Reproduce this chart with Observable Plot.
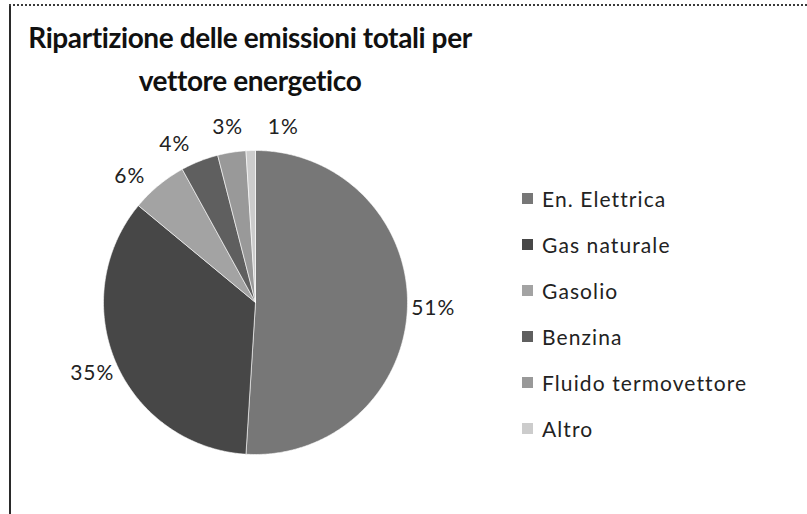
<!DOCTYPE html>
<html>
<head>
<meta charset="utf-8">
<script src="https://cdn.jsdelivr.net/npm/d3@7"></script>
<script src="https://cdn.jsdelivr.net/npm/@observablehq/plot@0.6"></script>
<style>
  html, body { margin: 0; padding: 0; background: #fff; }
  #wrap { position: relative; width: 807px; height: 514px; overflow: hidden; background: #fff; font-family: Lato, "Open Sans", sans-serif; }
  #frameL { position: absolute; left: 9px; top: 4px; bottom: 0; width: 0; border-left: 2px solid #2a2a2a; }
  #frameT { position: absolute; left: 9px; right: 0; top: 4px; height: 0; border-top: 2px dotted #3a3a3a; }
  #title { position: absolute; left: 0; top: 0; width: 500px; height: 110px; text-align: center;
           font-family: Lato, sans-serif; font-weight: bold; font-size: 28px; letter-spacing: -0.4px; line-height: 43px; color: #111; padding-top: 16px; box-sizing: border-box; }
  #plot { position: absolute; left: 0; top: 110px; }
  #legend { position: absolute; left: 522px; top: 175px; font-family: Lato, sans-serif; font-size: 21px; letter-spacing: 1.1px; color: #222; }
  .item { display: flex; align-items: center; height: 46px; }
  .sw { width: 11px; height: 11px; margin-right: 9px; }
</style>
</head>
<body>
<div id="wrap">
  <div id="frameL"></div>
  <div id="frameT"></div>
  <div id="title">Ripartizione delle emissioni totali per<br>vettore energetico</div>
  <div id="plot"></div>
  <div id="legend"></div>
</div>
<script>
// Data
const categories = ["En. Elettrica", "Gas naturale", "Gasolio", "Benzina", "Fluido termovettore", "Altro"];
const shares = [51, 35, 6, 4, 3, 1];
const colors = ["#777777", "#474747", "#a3a3a3", "#5f5f5f", "#999999", "#cccccc"];

const data = categories.map((c, i) => ({category: c, value: shares[i]}));
const arcs = d3.pie().sort(null).value(d => d.value)(data);

// Build slice polygons (unit circle; angle 0 = 12 o'clock, clockwise)
const slicePts = [];
arcs.forEach(a => {
  const n = Math.max(2, Math.ceil((a.endAngle - a.startAngle) / 0.01));
  slicePts.push({category: a.data.category, x: 0, y: 0});
  for (let k = 0; k <= n; k++) {
    const t = a.startAngle + (a.endAngle - a.startAngle) * k / n;
    slicePts.push({category: a.data.category, x: Math.sin(t), y: Math.cos(t)});
  }
  slicePts.push({category: a.data.category, x: 0, y: 0});
});

// Label angles: slice mid-angles, spread apart so neighbouring labels do not collide
const total = d3.sum(shares);
const minSep = Math.PI / 10;
const ang = arcs.map(a => (a.startAngle + a.endAngle) / 2);
for (let it = 0; it < 300; it++) {
  for (let i = 0; i < ang.length; i++) {
    const j = (i + 1) % ang.length;
    let d = ang[j] - ang[i];
    if (j === 0) d += 2 * Math.PI;
    if (d < minSep) {
      const p = (minSep - d) / 2;
      ang[i] -= p; ang[j] += p;
    }
  }
}
const labels = arcs.map((a, i) => {
  const r = 1.17;
  return {label: Math.round(a.data.value / total * 100) + "%", x: r * Math.sin(ang[i]), y: r * Math.cos(ang[i])};
});

const chart = Plot.plot({
  width: 807,
  height: 404,
  marginLeft: 103,
  marginRight: 400,
  marginTop: 40,
  marginBottom: 60,
  x: {domain: [-1, 1], axis: null},
  y: {domain: [-1, 1], axis: null},
  color: {domain: categories, range: colors},
  style: {background: "transparent", overflow: "visible"},
  marks: [
    Plot.line(slicePts, {x: "x", y: "y", z: "category", fill: "category", stroke: "#ffffff", strokeWidth: 0.6, curve: "linear"}),
    Plot.text(labels, {x: "x", y: "y", text: "label", fontSize: 21, fill: "#222", fontFamily: "Lato, sans-serif"})
  ]
});
chart.querySelectorAll("text").forEach(t => t.style.letterSpacing = "1px");
document.getElementById("plot").appendChild(chart);

const legend = document.getElementById("legend");
categories.forEach((c, i) => {
  const it = document.createElement("div");
  it.className = "item";
  const sw = document.createElement("span");
  sw.className = "sw";
  sw.style.background = colors[i];
  const tx = document.createElement("span");
  tx.textContent = c;
  it.appendChild(sw); it.appendChild(tx);
  legend.appendChild(it);
});
</script>
</body>
</html>
